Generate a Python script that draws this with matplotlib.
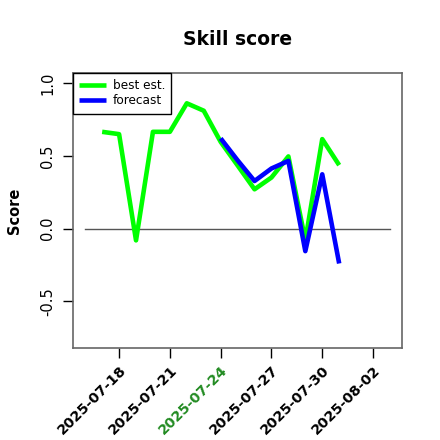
import matplotlib
matplotlib.use("Agg")
import matplotlib.pyplot as plt
import matplotlib.dates as mdates
import numpy as np
import pandas as pd

plt.rcParams['font.family'] = ['DejaVu Sans']

# Daily skill scores
best_dates = pd.date_range("2025-07-17", "2025-07-31", freq="D")
best_est = [0.666, 0.650, -0.08, 0.666, 0.666, 0.862, 0.811, 0.597,
            0.435, 0.271, 0.352, 0.497, -0.08, 0.616, 0.437]

fc_dates = pd.date_range("2025-07-24", "2025-07-31", freq="D")
forecast = [0.621, 0.470, 0.328, 0.414, 0.466, -0.154, 0.374, -0.239]

tick_dates = pd.date_range("2025-07-18", "2025-08-02", freq="3D")
tick_labels = [d.strftime("%Y-%m-%d") for d in tick_dates]
highlight = "2025-07-24"

y_ticks = [-0.5, 0.0, 0.5, 1.0]
y_labels = ["-0.5", "0.0", "0.5", "1.0"]

fig = plt.figure(figsize=(4.4, 4.4), dpi=100)
ax = fig.add_axes([0.166, 0.209, 0.748, 0.625])

x0 = mdates.date2num(pd.Timestamp("2025-07-16"))
x1 = mdates.date2num(pd.Timestamp("2025-08-03"))
pad = 0.04 * (x1 - x0)
ax.set_xlim(x0 - pad, x1 + pad)
ax.set_ylim(-0.82, 1.07)

ax.plot([x0, x1], [0, 0], color="#555555", lw=1)
ax.plot(best_dates, best_est, color="#00ff00", lw=3.3, label="best est.",
        solid_joinstyle="round", solid_capstyle="butt")
ax.plot(fc_dates, forecast, color="#0000ff", lw=3.3, label="forecast",
        solid_joinstyle="round", solid_capstyle="butt")

for s in ax.spines.values():
    s.set_color("#666666")
    s.set_linewidth(1.2)

ax.set_yticks(y_ticks)
ax.set_yticklabels(y_labels, rotation=90, va="center", fontsize=10.5)
ax.set_xticks(mdates.date2num(tick_dates))
ax.set_xticklabels(tick_labels, rotation=45, ha="right", rotation_mode="anchor",
                   fontsize=10.3, fontweight="bold")
for lab in ax.get_xticklabels():
    if lab.get_text() == highlight:
        lab.set_color("#228b22")
ax.tick_params(axis="both", length=7, width=1, color="black")
ax.tick_params(axis="y", pad=6)
ax.tick_params(axis="x", pad=4)

ax.set_ylabel("Score", fontsize=10.5, fontweight="bold", labelpad=13)
ax.set_title("Skill score", fontsize=13.5, fontweight="bold", pad=20)

leg = ax.legend(loc="upper left", borderaxespad=0, fontsize=8.7,
                fancybox=False, framealpha=1, handlelength=2.2,
                handletextpad=0.6, labelspacing=0.2, borderpad=0.5)
leg.get_frame().set_edgecolor("black")
leg.get_frame().set_linewidth(1)

fig.savefig("out.png", dpi=100)
